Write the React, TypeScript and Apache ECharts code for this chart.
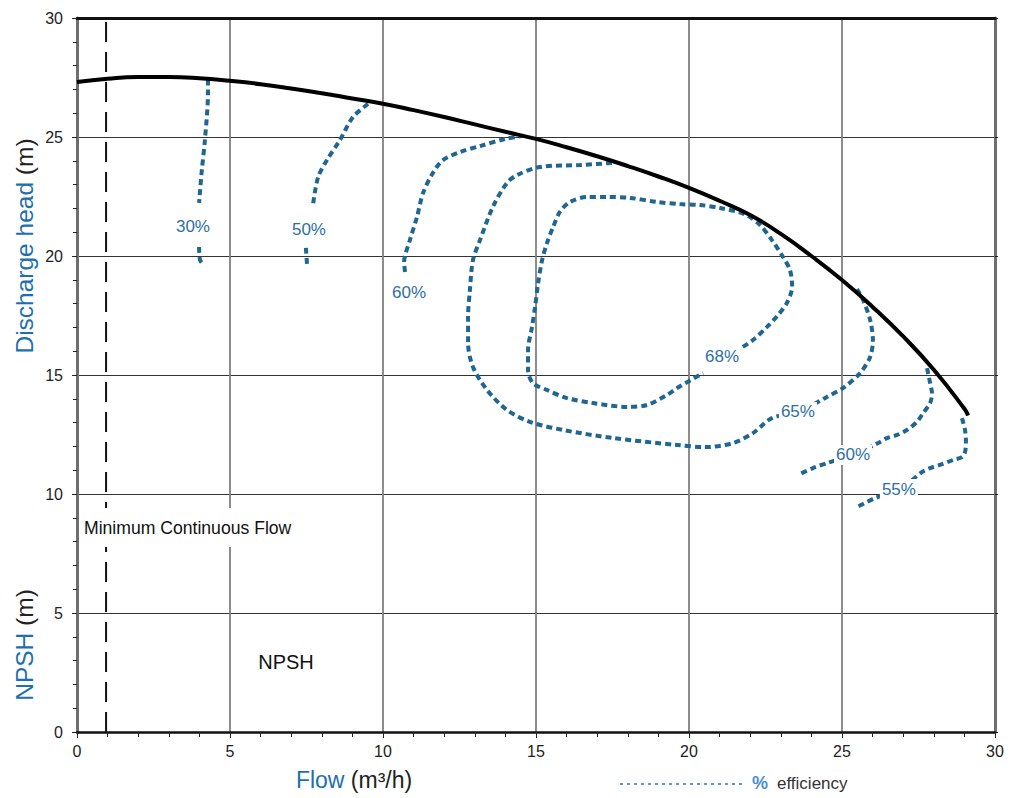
import React, { useEffect, useRef } from "react";
import * as echarts from "echarts";

const FONT = "'Liberation Sans', Arial, Helvetica, sans-serif";

// Pump head curve (Flow m3/h -> Discharge head m)
const headFlow = [0, 1, 2, 3, 4, 5, 6, 7, 8, 9, 10, 11, 12, 13, 14, 15, 16, 17, 18, 19, 20, 21, 22, 23, 24, 25, 26, 27, 28, 29, 29.12];
const headValue = [27.31, 27.45, 27.52, 27.52, 27.47, 27.36, 27.22, 27.04, 26.84, 26.62, 26.4, 26.13, 25.84, 25.53, 25.22, 24.92, 24.57, 24.19, 23.78, 23.34, 22.86, 22.32, 21.72, 20.93, 20.0, 18.99, 17.86, 16.62, 15.22, 13.58, 13.3];

// Minimum continuous flow
const minFlow = 0.95;

// Efficiency contours
const e30aFlow = [4.28, 4.28, 4.18, 4.08, 3.99];
const e30aHead = [27.42, 26.85, 24.87, 23.61, 22.23];
const e30bFlow = [3.99, 4.02, 4.12];
const e30bHead = [20.38, 19.83, 19.66];

const e50aFlow = [9.51, 9.02, 8.59, 8.17, 7.88, 7.71];
const e50aHead = [26.39, 25.84, 24.87, 24.03, 23.32, 22.14];
const e50bFlow = [7.48, 7.52];
const e50bHead = [20.34, 19.58];

const e60aFlow = [10.72, 10.69, 10.88, 11.11, 11.31, 11.63, 11.96, 12.52, 13.17, 13.99, 14.6];
const e60aHead = [19.33, 19.75, 20.67, 21.64, 22.65, 23.49, 24.03, 24.37, 24.62, 24.92, 25.05];

const e65Flow = [17.48, 16.44, 15.13, 14.38, 14.05, 13.59, 13.17, 12.94, 12.84, 12.78, 12.78, 12.94, 13.4, 14.05, 14.8, 15.88, 17.52, 19.61, 20.52, 21.44, 22.09, 22.71, 23.56, 24.51, 25.03, 25.59, 25.92, 26.01, 25.92, 25.69, 25.49];
const e65Head = [23.91, 23.82, 23.74, 23.4, 23.07, 22.06, 20.67, 19.83, 18.57, 17.44, 16.34, 15.34, 14.37, 13.53, 13.03, 12.69, 12.35, 12.06, 11.97, 12.14, 12.56, 13.19, 13.45, 14.08, 14.45, 15.08, 15.76, 16.47, 17.31, 18.15, 18.61];

const e68Flow = [21.76, 22.09, 22.55, 22.91, 23.2, 23.37, 23.3, 23.07, 22.71, 22.32, 21.83, 21.01, 20.36, 19.71, 18.95, 18.07, 17.32, 16.67, 16.11, 15.78, 15.56, 15.36, 15.2, 15.07, 14.97, 14.87, 14.74, 14.74, 14.9, 15.36, 16.01, 16.86, 17.97, 18.63, 19.28, 19.61, 20.46];
const e68Head = [16.18, 16.47, 17.02, 17.52, 18.03, 18.7, 19.41, 19.96, 20.67, 21.3, 21.75, 22.02, 22.14, 22.18, 22.27, 22.44, 22.48, 22.48, 22.27, 21.85, 21.22, 20.55, 19.83, 18.87, 17.86, 17.02, 16.05, 15.21, 14.66, 14.37, 14.03, 13.82, 13.66, 13.74, 14.16, 14.45, 15.08];

const e60bFlow = [27.78, 27.88, 27.94, 27.88, 27.65, 27.45, 27.12, 26.8, 26.47, 26.18, 25.36, 24.51, 24.05, 23.63];
const e60bHead = [15.29, 14.66, 14.24, 13.82, 13.4, 13.03, 12.69, 12.48, 12.35, 12.14, 11.64, 11.3, 11.09, 10.84];

const e55Flow = [28.92, 29.02, 29.05, 29.02, 28.92, 28.63, 28.2, 27.88, 27.61, 26.86, 26.08, 25.69, 25.49];
const e55Head = [13.19, 12.69, 12.18, 11.76, 11.55, 11.43, 11.22, 11.09, 10.92, 10.17, 9.83, 9.58, 9.45];

// Efficiency labels
const labelText = ["30%", "50%", "60%", "65%", "68%", "60%", "55%"];
const labelFlow = [3.79, 7.58, 10.85, 23.56, 21.08, 25.36, 26.86];
const labelHead = [21.26, 21.13, 18.45, 13.45, 15.76, 11.64, 10.21];

// Axis ticks
const axisMin = 0;
const axisMax = 30;
const axisStep = 5;

const zip = (a: number[], b: number[]) => a.map((x, i) => [x, b[i]]);

const CONTOUR = "#1f6691";
const LABEL = "#2e6fa3";
const TITLE_BLUE = "#1e6fae";

export default function App() {
  const ref = useRef<HTMLDivElement>(null);

  useEffect(() => {
    if (!ref.current) return;
    const chart = echarts.init(ref.current, undefined, { renderer: "svg" });

    const contourSeries = [
      [e30aFlow, e30aHead],
      [e30bFlow, e30bHead],
      [e50aFlow, e50aHead],
      [e50bFlow, e50bHead],
      [e60aFlow, e60aHead],
      [e65Flow, e65Head],
      [e68Flow, e68Head],
      [e60bFlow, e60bHead],
      [e55Flow, e55Head],
    ].map(([f, h], i) => ({
      type: "line",
      name: "eff" + i,
      data: zip(f as number[], h as number[]),
      smooth: 0.3,
      symbol: "none",
      z: 3,
      lineStyle: { color: CONTOUR, width: 4, type: [6, 4], cap: "butt" },
      silent: true,
    }));

    const staticGraphics: any[] = [
      { type: "rect", z: 100, shape: { x: 80, y: 508, width: 218, height: 39 }, style: { fill: "#ffffff" } },
      {
        type: "text",
        z: 101,
        x: 84,
        y: 528,
        style: { text: "Minimum Continuous Flow", fontSize: 17.6, fontFamily: FONT, fill: "#111", verticalAlign: "middle", align: "left" },
      },
      {
        type: "text",
        z: 100,
        x: 286,
        y: 662,
        style: { text: "NPSH", fontSize: 20, fontFamily: FONT, fill: "#111", align: "center", verticalAlign: "middle" },
      },
      {
        type: "text",
        z: 100,
        x: 24,
        y: 246,
        rotation: Math.PI / 2,
        style: {
          text: "{b|Discharge head} {k|(m)}",
          fontSize: 24.5,
          fontFamily: FONT,
          align: "center",
          verticalAlign: "middle",
          rich: {
            b: { fill: TITLE_BLUE, fontSize: 24.5, fontFamily: FONT },
            k: { fill: "#222", fontSize: 24.5, fontFamily: FONT },
          },
        },
      },
      {
        type: "text",
        z: 100,
        x: 24,
        y: 645,
        rotation: Math.PI / 2,
        style: {
          text: "{b|NPSH} {k|(m)}",
          fontSize: 24.5,
          fontFamily: FONT,
          align: "center",
          verticalAlign: "middle",
          rich: {
            b: { fill: TITLE_BLUE, fontSize: 24.5, fontFamily: FONT },
            k: { fill: "#222", fontSize: 24.5, fontFamily: FONT },
          },
        },
      },
      {
        type: "text",
        z: 100,
        x: 354,
        y: 780,
        style: {
          text: "{b|Flow} {k|(m³/h)}",
          fontSize: 23,
          fontFamily: FONT,
          align: "center",
          verticalAlign: "middle",
          rich: {
            b: { fill: TITLE_BLUE, fontSize: 23, fontFamily: FONT },
            k: { fill: "#222", fontSize: 23, fontFamily: FONT },
          },
        },
      },
      {
        type: "line",
        z: 100,
        shape: { x1: 620, y1: 784, x2: 744, y2: 784 },
        style: { stroke: "#5b9bd5", lineWidth: 2, lineDash: [3, 4] },
      },
      {
        type: "text",
        z: 100,
        x: 752,
        y: 783,
        style: { text: "%", fontSize: 18, fontWeight: "bold", fontFamily: FONT, fill: "#4a90d0", verticalAlign: "middle", align: "left" },
      },
      {
        type: "text",
        z: 100,
        x: 777,
        y: 783,
        style: { text: "efficiency", fontSize: 17, fontFamily: FONT, fill: "#333", verticalAlign: "middle", align: "left" },
      },
    ];

    const option: any = {
      animation: false,
      backgroundColor: "#ffffff",
      grid: { left: 77, right: 18, top: 18, bottom: 66, containLabel: false },
      xAxis: [
        {
          type: "value",
          min: axisMin,
          max: axisMax,
          interval: axisStep,
          position: "bottom",
          axisLine: { show: true, onZero: false, lineStyle: { color: "#111", width: 2.5 } },
          axisTick: { show: true, length: 6, lineStyle: { color: "#222", width: 1 } },
          minorTick: { show: true, splitNumber: 5, length: 5, lineStyle: { color: "#222", width: 1 } },
          axisLabel: { fontSize: 16, color: "#222", margin: 11, fontFamily: FONT },
          splitLine: { show: true, lineStyle: { color: "#808080", width: 1.8 } },
        },
        {
          type: "value",
          min: axisMin,
          max: axisMax,
          interval: axisStep,
          position: "top",
          axisLine: { show: true, onZero: false, lineStyle: { color: "#111", width: 3 } },
          axisTick: { show: false },
          axisLabel: { show: false },
          splitLine: { show: false },
        },
      ],
      yAxis: [
        {
          type: "value",
          min: axisMin,
          max: axisMax,
          interval: axisStep,
          position: "left",
          axisLine: { show: true, onZero: false, lineStyle: { color: "#6e6e6e", width: 3 } },
          axisTick: { show: true, length: 5, lineStyle: { color: "#222", width: 1 } },
          minorTick: { show: true, splitNumber: 5, length: 4, lineStyle: { color: "#222", width: 1 } },
          axisLabel: { fontSize: 16, color: "#222", margin: 14, fontFamily: FONT },
          splitLine: { show: true, lineStyle: { color: "#333", width: 1.1 } },
        },
        {
          type: "value",
          min: axisMin,
          max: axisMax,
          interval: axisStep,
          position: "right",
          axisLine: { show: true, onZero: false, lineStyle: { color: "#6e6e6e", width: 3 } },
          axisTick: { show: true, length: 3, lineStyle: { color: "#222", width: 1 } },
          axisLabel: { show: false },
          splitLine: { show: false },
        },
      ],
      series: [
        {
          type: "line",
          name: "Minimum Continuous Flow",
          data: [
            [minFlow, axisMin],
            [minFlow, axisMax],
          ],
          symbol: "none",
          z: 2,
          lineStyle: { color: "#111", width: 2, type: [20, 10] },
          silent: true,
        },
        ...contourSeries,
        {
          type: "line",
          name: "Discharge head",
          data: zip(headFlow, headValue),
          smooth: 0.5,
          symbol: "none",
          z: 5,
          lineStyle: { color: "#000", width: 4 },
          silent: true,
        },
      ],
    };

    chart.setOption(option);

    // Efficiency labels placed through the chart's own scales
    const labelGraphics: any[] = [];
    labelText.forEach((t, i) => {
      const p = chart.convertToPixel({ gridIndex: 0 }, [labelFlow[i], labelHead[i]]) as number[];
      const w = 38;
      const h = 20;
      labelGraphics.push({
        type: "rect",
        z: 90,
        shape: { x: p[0] - w / 2, y: p[1] - h / 2, width: w, height: h },
        style: { fill: "#ffffff" },
      });
      labelGraphics.push({
        type: "text",
        z: 91,
        x: p[0],
        y: p[1],
        style: { text: t, fontSize: 17, fontFamily: FONT, fill: LABEL, align: "center", verticalAlign: "middle" },
      });
    });

    chart.setOption({ graphic: [...staticGraphics, ...labelGraphics] });

    return () => chart.dispose();
  }, []);

  return (
    <div
      ref={ref}
      style={{ position: "fixed", left: 0, top: 0, width: 1013, height: 798, background: "#fff" }}
    />
  );
}
